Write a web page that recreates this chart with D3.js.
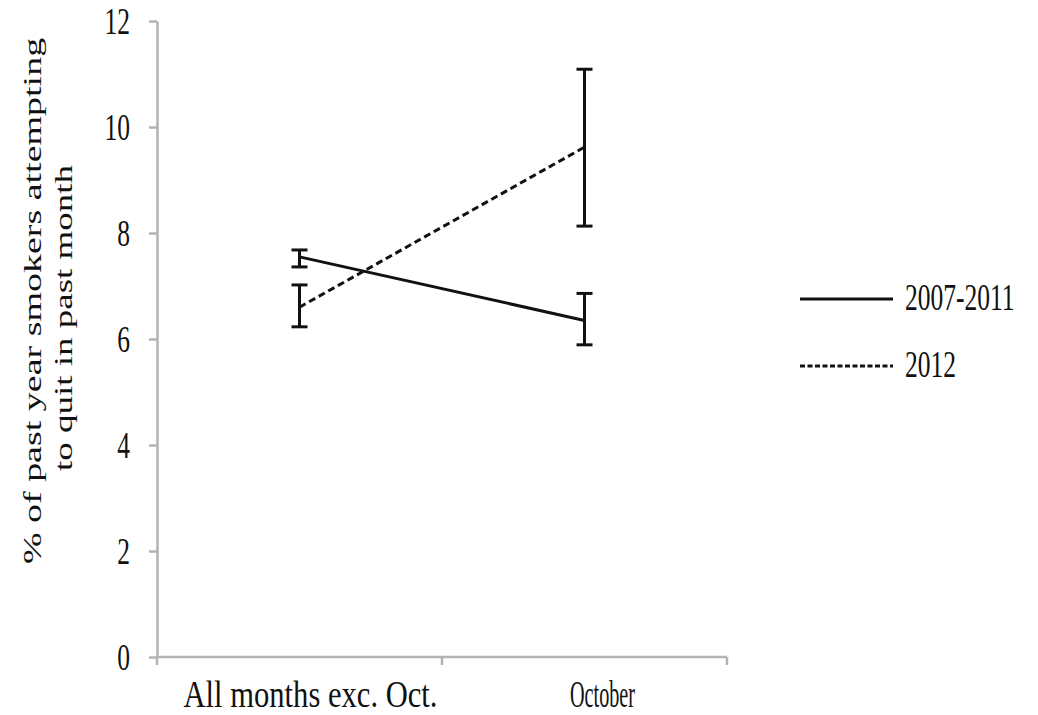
<!DOCTYPE html>
<html>
<head>
<meta charset="utf-8">
<script src="https://cdn.jsdelivr.net/npm/d3@7"></script>
<style>
  html, body { margin: 0; padding: 0; background: #fff; }
  svg { display: block; }
  text { font-family: "Liberation Serif", "Times New Roman", serif; fill: #111; }
</style>
</head>
<body>
<svg id="chart" width="1038" height="715"></svg>
<script>
// Data: % of past-year smokers attempting to quit in the past month
const categories = ["All months exc. Oct.", "October"];
const seriesNames = ["2007-2011", "2012"];
const mean2007 = [7.55, 6.35];
const low2007  = [7.36, 5.89];
const high2007 = [7.68, 6.86];
const mean2012 = [6.60, 9.62];
const low2012  = [6.23, 8.13];
const high2012 = [7.02, 11.09];
const yTicks = [0, 2, 4, 6, 8, 10, 12];
const yTitleLines = ["% of past year smokers attempting", "to quit in past month"];

const series = [
  { name: seriesNames[0], mean: mean2007, low: low2007, high: high2007, dash: null, legendDash: null },
  { name: seriesNames[1], mean: mean2012, low: low2012, high: high2012, dash: "7,4", legendDash: "5,2.5" }
];

const svg = d3.select("#chart");
const squeeze = 0.69; // narrow serif glyphs
const margin = { left: 157, right: 311, top: 21, bottom: 58 };
const W = 1038, H = 715;

const x = d3.scaleBand().domain(categories).range([margin.left, W - margin.right]);
const y = d3.scaleLinear().domain([0, 12]).range([H - margin.bottom, margin.top]);
const cx = c => x(c) + x.bandwidth() / 2;

const axisColor = "#b3b3b3";

// Y axis
const yAxis = svg.append("g").attr("transform", `translate(${margin.left},0)`)
  .call(d3.axisLeft(y).tickValues(yTicks).tickSize(8).tickSizeOuter(0).tickFormat(d3.format("d")));
yAxis.select(".domain").attr("stroke", axisColor).attr("stroke-width", 2.5);
yAxis.selectAll(".tick line").attr("stroke", axisColor).attr("stroke-width", 2.5);
yAxis.selectAll(".tick text").remove();
yAxis.selectAll(".tick").append("text")
  .attr("transform", `translate(-27,12) scale(${squeeze},1)`)
  .attr("text-anchor", "end")
  .style("font-size", "37px")
  .text(d => d);

// X axis with ticks at band edges
const xEdges = [margin.left, x(categories[1]), W - margin.right];
const xAxisG = svg.append("g").attr("transform", `translate(0,${y(0)})`);
xAxisG.append("line").attr("x1", margin.left).attr("x2", W - margin.right)
  .attr("stroke", axisColor).attr("stroke-width", 2.5);
xAxisG.selectAll("line.tick").data(xEdges).join("line").attr("class", "tick")
  .attr("x1", d => d).attr("x2", d => d).attr("y1", 0).attr("y2", 8)
  .attr("stroke", axisColor).attr("stroke-width", 2.5);
// category labels set tight, each fitted to its own run length
const labelRun = [254, 65];
const labelShift = [11, 18];
xAxisG.selectAll("text").data(categories).join("text")
  .attr("x", (d, i) => cx(d) + labelShift[i] - labelRun[i] / 2)
  .attr("y", 50)
  .attr("textLength", (d, i) => labelRun[i])
  .attr("lengthAdjust", "spacingAndGlyphs")
  .style("font-size", "37px")
  .text(d => d);

// Y axis title, two centred lines
const titleCentres = [301, 318];
const titleBase = [41, 72];
const titleSize = [38, 37];
yTitleLines.forEach((t, i) => {
  svg.append("text")
    .attr("transform", `translate(${titleBase[i]},${titleCentres[i]}) scale(${squeeze},1) rotate(-90)`)
    .attr("text-anchor", "middle")
    .style("font-size", titleSize[i] + "px")
    .text(t);
});

// Series lines
const line = d3.line().x((d, i) => cx(categories[i])).y(d => y(d));
series.forEach(s => {
  svg.append("path").datum(s.mean)
    .attr("d", line)
    .attr("fill", "none").attr("stroke", "#111").attr("stroke-width", 3)
    .attr("stroke-dasharray", s.dash);
});

// Error bars
const cap = 8;
series.forEach(s => {
  const g = svg.append("g").attr("stroke", "#111").attr("stroke-width", 3);
  categories.forEach((c, i) => {
    const px = cx(c);
    g.append("line").attr("x1", px).attr("x2", px).attr("y1", y(s.low[i])).attr("y2", y(s.high[i]));
    g.append("line").attr("x1", px - cap).attr("x2", px + cap).attr("y1", y(s.low[i])).attr("y2", y(s.low[i]));
    g.append("line").attr("x1", px - cap).attr("x2", px + cap).attr("y1", y(s.high[i])).attr("y2", y(s.high[i]));
  });
});

// Legend
const legend = svg.append("g");
series.forEach((s, i) => {
  const ly = 299 + i * 67;
  legend.append("line").attr("x1", 800).attr("x2", 893).attr("y1", ly).attr("y2", ly)
    .attr("stroke", "#111").attr("stroke-width", 3).attr("stroke-dasharray", s.legendDash);
  legend.append("text")
    .attr("transform", `translate(905,${ly + 11}) scale(${squeeze},1)`)
    .style("font-size", "37px")
    .text(s.name);
});
</script>
</body>
</html>
